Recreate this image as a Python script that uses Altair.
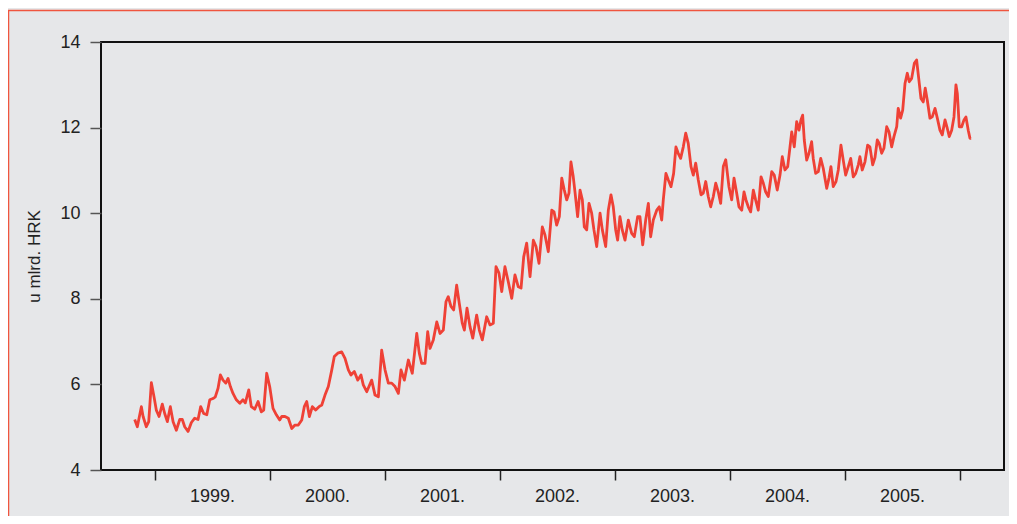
import altair as alt
import pandas as pd

# time in decimal years, value in billions HRK
years = [
    1998.823, 1998.846, 1998.881, 1998.896, 1998.924, 1998.945, 1998.968, 1998.991,
    1999.011, 1999.035, 1999.063, 1999.084, 1999.107, 1999.133, 1999.157, 1999.185,
    1999.215, 1999.237, 1999.258, 1999.287, 1999.316, 1999.345, 1999.374, 1999.397,
    1999.423, 1999.450, 1999.476, 1999.504, 1999.524, 1999.548, 1999.568, 1999.591,
    1999.615, 1999.635, 1999.655, 1999.678, 1999.707, 1999.737, 1999.765, 1999.785,
    1999.815, 1999.837, 1999.867, 1999.896, 1999.924, 1999.945, 1999.971, 1999.997,
    2000.026, 2000.055, 2000.084, 2000.102, 2000.130, 2000.159, 2000.189, 2000.217,
    2000.246, 2000.276, 2000.298, 2000.319, 2000.342, 2000.368, 2000.397, 2000.426,
    2000.450, 2000.478, 2000.507, 2000.537, 2000.559, 2000.589, 2000.623, 2000.652,
    2000.681, 2000.704, 2000.733, 2000.763, 2000.791, 2000.811, 2000.841, 2000.884,
    2000.913, 2000.942, 2000.971, 2001.000, 2001.029, 2001.058, 2001.087, 2001.116,
    2001.139, 2001.168, 2001.203, 2001.237, 2001.276, 2001.298, 2001.319, 2001.348,
    2001.371, 2001.391, 2001.420, 2001.450, 2001.478, 2001.507, 2001.530, 2001.550,
    2001.574, 2001.597, 2001.623, 2001.646, 2001.672, 2001.690, 2001.713, 2001.739,
    2001.763, 2001.797, 2001.820, 2001.846, 2001.884, 2001.913, 2001.942, 2001.965,
    2001.991, 2002.015, 2002.043, 2002.072, 2002.102, 2002.130, 2002.159, 2002.183,
    2002.206, 2002.232, 2002.261, 2002.290, 2002.313, 2002.339, 2002.368, 2002.391,
    2002.420, 2002.450, 2002.470, 2002.493, 2002.516, 2002.537, 2002.559, 2002.580,
    2002.600, 2002.617, 2002.637, 2002.652, 2002.675, 2002.696, 2002.716, 2002.733,
    2002.754, 2002.774, 2002.797, 2002.817, 2002.841, 2002.870, 2002.890, 2002.919,
    2002.942, 2002.965, 2002.985, 2003.006, 2003.023, 2003.043, 2003.063, 2003.087,
    2003.116, 2003.145, 2003.168, 2003.197, 2003.217, 2003.241, 2003.267, 2003.290,
    2003.310, 2003.333, 2003.363, 2003.385, 2003.406, 2003.420, 2003.443, 2003.463,
    2003.487, 2003.510, 2003.530, 2003.550, 2003.571, 2003.594, 2003.615, 2003.637,
    2003.661, 2003.681, 2003.702, 2003.724, 2003.748, 2003.768, 2003.789, 2003.811,
    2003.832, 2003.855, 2003.876, 2003.898, 2003.919, 2003.942, 2003.963, 2003.991,
    2004.015, 2004.035, 2004.058, 2004.078, 2004.102, 2004.122, 2004.139, 2004.159,
    2004.180, 2004.203, 2004.223, 2004.246, 2004.270, 2004.290, 2004.310, 2004.333,
    2004.363, 2004.385, 2004.411, 2004.435, 2004.455, 2004.478, 2004.502, 2004.522,
    2004.537, 2004.559, 2004.580, 2004.600, 2004.617, 2004.632, 2004.646, 2004.667,
    2004.687, 2004.710, 2004.724, 2004.745, 2004.768, 2004.789, 2004.811, 2004.841,
    2004.861, 2004.878, 2004.898, 2004.922, 2004.942, 2004.965, 2004.985, 2005.006,
    2005.029, 2005.050, 2005.072, 2005.093, 2005.116, 2005.130, 2005.150, 2005.174,
    2005.197, 2005.217, 2005.241, 2005.261, 2005.281, 2005.298, 2005.319, 2005.339,
    2005.363, 2005.383, 2005.406, 2005.426, 2005.450, 2005.463, 2005.484, 2005.502,
    2005.522, 2005.542, 2005.559, 2005.580, 2005.603, 2005.623, 2005.643, 2005.661,
    2005.681, 2005.698, 2005.716, 2005.739, 2005.759, 2005.783, 2005.803, 2005.826,
    2005.846, 2005.870, 2005.890, 2005.907, 2005.928, 2005.948, 2005.965, 2005.977,
    2005.994, 2006.015, 2006.035, 2006.052, 2006.072, 2006.087, 2006.098,
]

values = [
    5.18, 5.01, 5.48, 5.25, 5.01, 5.13, 6.04, 5.71,
    5.40, 5.25, 5.54, 5.32, 5.13, 5.48, 5.13, 4.93,
    5.18, 5.18, 5.01, 4.90, 5.11, 5.21, 5.18, 5.48,
    5.32, 5.29, 5.64, 5.67, 5.71, 5.91, 6.22, 6.10,
    6.03, 6.14, 5.95, 5.79, 5.64, 5.56, 5.64, 5.57,
    5.87, 5.48, 5.42, 5.60, 5.36, 5.40, 6.26, 5.95,
    5.44, 5.29, 5.17, 5.25, 5.25, 5.21, 4.97, 5.05,
    5.05, 5.17, 5.48, 5.60, 5.25, 5.48, 5.40, 5.48,
    5.52, 5.75, 5.95, 6.34, 6.65, 6.73, 6.76, 6.61,
    6.34, 6.22, 6.30, 6.10, 6.22, 5.99, 5.83, 6.10,
    5.75, 5.71, 6.80, 6.34, 6.03, 6.03, 5.95, 5.79,
    6.34, 6.10, 6.57, 6.26, 7.19, 6.73, 6.49, 6.49,
    7.23, 6.84, 7.04, 7.46, 7.19, 7.27, 7.93, 8.05,
    7.82, 7.74, 8.32, 7.89, 7.43, 7.27, 7.78, 7.35,
    7.08, 7.62, 7.27, 7.04, 7.58, 7.39, 7.43, 8.75,
    8.60, 8.17, 8.75, 8.40, 8.01, 8.56, 8.28, 8.25,
    8.98, 9.30, 8.52, 9.37, 9.22, 8.83, 9.68, 9.49,
    9.10, 10.07, 10.03, 9.72, 9.92, 10.82, 10.54, 10.31,
    10.47, 11.20, 10.85, 10.50, 9.92, 10.54, 10.31, 9.68,
    9.61, 10.23, 10.00, 9.61, 9.22, 10.00, 9.61, 9.22,
    10.07, 10.43, 10.15, 9.61, 9.37, 9.92, 9.61, 9.37,
    9.84, 9.53, 9.45, 9.92, 9.92, 9.26, 9.84, 10.23,
    9.45, 9.84, 10.07, 10.15, 9.84, 10.31, 10.93, 10.78,
    10.62, 10.93, 11.55, 11.40, 11.28, 11.55, 11.87, 11.63,
    11.09, 10.89, 11.17, 10.78, 10.43, 10.47, 10.74, 10.39,
    10.15, 10.39, 10.70, 10.50, 10.23, 11.09, 11.25, 10.62,
    10.31, 10.82, 10.47, 10.15, 10.07, 10.50, 10.31, 10.15,
    10.03, 10.54, 10.31, 10.07, 10.85, 10.70, 10.50, 10.39,
    10.97, 10.89, 10.54, 10.89, 11.32, 11.01, 11.09, 11.55,
    11.90, 11.55, 12.14, 11.94, 12.18, 12.29, 11.71, 11.24,
    11.40, 11.67, 11.28, 10.93, 10.97, 11.28, 11.05, 10.58,
    10.82, 11.09, 10.62, 10.74, 11.01, 11.59, 11.24, 10.89,
    11.09, 11.28, 10.85, 10.93, 11.13, 11.32, 11.01, 11.20,
    11.59, 11.55, 11.13, 11.30, 11.71, 11.63, 11.40, 11.52,
    12.02, 11.90, 11.55, 11.79, 12.02, 12.45, 12.22, 12.41,
    13.03, 13.27, 13.07, 13.15, 13.50, 13.58, 13.11, 12.68,
    12.60, 12.92, 12.64, 12.22, 12.25, 12.45, 12.22, 11.94,
    11.83, 12.18, 11.98, 11.79, 11.94, 12.25, 13.00, 12.80,
    12.02, 12.02, 12.18, 12.25, 11.94, 11.75, 11.75,
]

year_ticks = [1999, 2000, 2001, 2002, 2003, 2004, 2005, 2006]
y_ticks = [4, 6, 8, 10, 12, 14]

df = pd.DataFrame({"t": years, "v": values})

FONT = "Liberation Sans"
RED = "#ef4136"

border = alt.Chart(alt.Data(values=[{"a": 1}])).mark_rect(
    fillOpacity=0, stroke="#f0553f", strokeWidth=1.5
).encode(
    x=alt.value(-92.5), x2=alt.value(930), y=alt.value(-31.5), y2=alt.value(500)
)

line = alt.Chart(df).mark_line(color=RED, strokeWidth=2.8, strokeJoin="round").encode(
    x=alt.X(
        "t:Q",
        scale=alt.Scale(domain=[1998.530, 2006.383], nice=False, zero=False),
        axis=alt.Axis(
            values=year_ticks,
            labelExpr="datum.value < 2006 ? format(datum.value, 'd') + '.' : ''",
            labelOffset=57,
            labelFlush=False,
            labelOverlap=False,
            labelPadding=7,
            labelFont=FONT,
            labelFontSize=18,
            labelColor="#222222",
            tickSize=10,
            tickColor="#222222",
            tickWidth=1.5,
            domain=False,
            grid=False,
            title=None,
        ),
    ),
    y=alt.Y(
        "v:Q",
        scale=alt.Scale(domain=[4, 14], nice=False, zero=False),
        axis=alt.Axis(
            values=y_ticks,
            format="d",
            labelPadding=10,
            labelFont=FONT,
            labelFontSize=18,
            labelColor="#222222",
            tickSize=11,
            tickColor="#555555",
            tickWidth=1.5,
            domain=False,
            grid=False,
            title="u mlrd. HRK",
            titleFont=FONT,
            titleFontSize=17,
            titleFontWeight="normal",
            titleColor="#222222",
            titlePadding=16,
        ),
    ),
)

chart = alt.layer(border, line).properties(
    width=903,
    height=428,
    autosize=alt.AutoSizeParams(type="none"),
    padding={"left": 93, "top": 34, "right": 5, "bottom": 46},
    background="#e6e7e9",
).configure_view(stroke="#111111", strokeWidth=2)

chart.save("out.html", embed_options={"renderer": "svg", "actions": False})
